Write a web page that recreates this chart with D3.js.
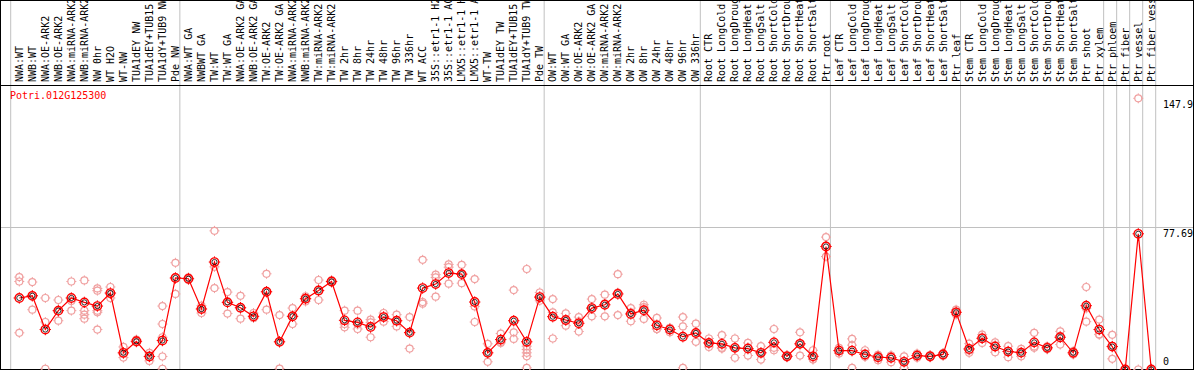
<!DOCTYPE html>
<html>
<head>
<meta charset="utf-8">
<script src="https://cdn.jsdelivr.net/npm/d3@7"></script>
<style>
  body { margin: 0; background: #fff; }
  svg { display: block; }
</style>
</head>
<body>
<script>
// sample names, left to right
const samples = [
  "NWA:WT", "NWB:WT", "NWA:OE-ARK2", "NWB:OE-ARK2", "NWA:miRNA-ARK2", "NWB:miRNA-ARK2",
  "NW 0hr", "WT H2O", "WT-NW", "TUA1dEY NW", "TUA1dEY+TUB15 NW", "TUA1dY+TUB9 NW", "Pde NW",
  "NWA:WT GA", "NWBWT GA", "TW:WT", "TW:WT GA", "NWA:OE-ARK2 GA", "NWB:OE-ARK2 GA",
  "TW:OE-ARK2", "TW:OE-ARK2 GA", "NWA:miRNA-ARK2", "NWB:miRNA-ARK2", "TW:miRNA-ARK2",
  "TW:miRNA-ARK2", "TW 2hr", "TW 8hr", "TW 24hr", "TW 48hr", "TW 96hr", "TW 336hr",
  "WT ACC", "35S::etr1-1 H2O", "35S::etr1-1 ACC", "LMX5::etr1-1 H2O", "LMX5::etr1-1 ACC",
  "WT-TW", "TUA1dEY TW", "TUA1dEY+TUB15 TW", "TUA1dY+TUB9 TW", "Pde TW",
  "OW:WT", "OW:WT GA", "OW:OE-ARK2", "OW:OE-ARK2 GA", "OW:miRNA-ARK2", "OW:miRNA-ARK2",
  "OW 2hr", "OW 8hr", "OW 24hr", "OW 48hr", "OW 96hr", "OW 336hr",
  "Root CTR", "Root LongCold", "Root LongDrought", "Root LongHeat", "Root LongSalt",
  "Root ShortCold", "Root ShortDrought", "Root ShortHeat", "Root ShortSalt", "Ptr root",
  "Leaf CTR", "Leaf LongCold", "Leaf LongDrought", "Leaf LongHeat", "Leaf LongSalt",
  "Leaf ShortCold", "Leaf ShortDrought", "Leaf ShortHeat", "Leaf ShortSalt", "Ptr leaf",
  "Stem CTR", "Stem LongCold", "Stem LongDrought", "Stem LongHeat", "Stem LongSalt",
  "Stem ShortCold", "Stem ShortDrought", "Stem ShortHeat", "Stem ShortSalt", "Ptr shoot",
  "Ptr xylem", "Ptr phloem", "Ptr fiber", "Ptr vessel", "Ptr fiber vessel"
];

// mean expression per sample
const means = [
  39.0, 40.2, 21.8, 32.1, 39.0, 36.6, 34.6, 41.7, 9.1, 15.4, 7.1, 15.8, 49.9,
  49.5, 33.0, 58.6, 36.6, 33.7, 29.0, 42.4, 15.1, 29.0, 38.6, 43.1, 48.0, 26.8, 25.7,
  23.2, 28.6, 26.6, 20.1, 44.4, 46.6, 52.6, 52.0, 36.8, 9.1, 16.3, 26.6, 15.1, 39.5,
  28.8, 27.0, 25.2, 33.5, 35.3, 41.2, 30.3, 32.3, 24.1, 21.8, 17.9, 19.9,
  14.5, 14.0, 11.8, 11.4, 9.1, 14.8, 7.2, 14.0, 7.2, 67.1,
  10.3, 10.3, 8.2, 6.7, 6.4, 4.2, 7.6, 7.2, 8.2, 31.2,
  11.2, 17.0, 12.5, 9.8, 9.2, 14.8, 11.8, 17.6, 9.1, 34.8, 21.8,
  12.5, 0, 74.0, 0
];

// individual replicates per sample
const replicates = [
  [50.4, 48.0, 20.0], [47.7, 32.6, 40.2], [39.0, 25.9, 0.4], [37.9, 26.6, 31.8],
  [48.0, 32.1, 37.3], [48.6, 32.1, 29.9, 27.7], [44.2, 43.0, 32.1, 31.2, 21.8],
  [45.0, 39.0, 41.1], [12.3, 6.5, 8.5], [16.3, 14.7, 15.2], [9.1, 7.1, 4.7],
  [34.6, 24.8, 17.6, 7.1, 0.4], [58.2, 41.2, 50.2],
  [50.2, 49.5, 48.8], [34.8, 30.8, 33.4], [75.6, 44.4, 56.0], [42.2, 30.5, 37.1],
  [40.2, 27.7, 33.2], [30.8, 28.1, 28.1], [52.2, 32.6, 42.4], [29.7, 0.5, 15.1],
  [33.5, 24.8, 28.7], [39.9, 37.1, 38.8], [48.8, 37.9, 42.6], [48.6, 47.4, 48.0],
  [32.1, 24.8, 23.0], [32.1, 24.5, 22.1], [27.2, 25.7, 17.6], [30.8, 26.1, 28.9],
  [29.9, 23.5, 26.4], [28.6, 11.4, 20.3], [59.8, 36.8, 35.9], [51.7, 50.2, 39.7],
  [57.3, 55.8, 46.8], [57.1, 47.1, 52.0], [49.3, 34.4, 25.9], [14.0, 4.2, 9.1],
  [19.6, 14.5, 15.0], [43.3, 20.3, 16.7], [54.8, 12.7, 10.9, 9.1, 7.2, 0.9],
  [42.0, 37.5, 39.0],
  [38.4, 16.9, 31.1], [30.6, 23.9, 26.5], [28.6, 20.7, 26.3], [38.4, 29.0, 33.1],
  [40.8, 29.0, 36.1], [52.0, 29.7, 41.9], [33.5, 26.3, 31.1], [35.3, 27.6, 34.0],
  [28.1, 22.1, 22.1], [22.7, 20.3, 22.4], [28.6, 23.5, 0.9], [25.0, 15.1, 19.6],
  [16.9, 12.3, 14.3], [18.7, 11.4, 11.9], [16.9, 6.4, 12.1], [14.5, 7.6, 12.1],
  [12.7, 5.4, 9.2], [22.1, 10.5, 11.8], [7.8, 6.6, 7.2], [20.3, 7.6, 14.1],
  [10.5, 5.4, 5.7], [72.2, 61.6, 67.5],
  [11.8, 8.7, 10.4], [16.7, 0.9, 13.3], [10.5, 7.2, 6.9], [8.0, 5.1, 7.0],
  [7.6, 4.0, 7.6], [7.2, 0.9, 4.5], [8.7, 6.4, 7.7], [7.8, 6.6, 7.2],
  [9.0, 7.4, 8.2], [32.6, 29.9, 31.1],
  [14.1, 9.1, 10.4], [19.0, 14.5, 17.5], [14.8, 9.4, 13.3], [12.7, 6.7, 10.0],
  [11.2, 7.2, 9.2], [20.0, 11.8, 12.6], [12.6, 11.0, 11.8], [20.8, 13.6, 18.4],
  [10.0, 8.2, 9.1], [45.0, 26.1, 33.3], [27.2, 19.0, 19.2],
  [18.9, 5.8, 12.8], [0, 0], [147.9, 0], [0, 0]
];

// sample index where each vertical separator sits
const groupBreaks = [0, 13, 41, 53, 63, 73, 84, 85, 86, 87, 88];
const yTicks = ["0", "77.69", "147.9"];
const geneName = "Potri.012G125300";

let width = 1194, height = 370,
    labelBase = 82, headerLine = 85.5;

let x = d3.scaleBand()
    .domain(d3.range(samples.length))
    .range([10.7, 1155.7]);

let y = d3.scaleLinear()
    .domain([0, 147.9])
    .range([369.5, 98.3]);

const px = i => x(i) + 8.6;

let svg = d3.select("body").append("svg")
    .attr("width", width)
    .attr("height", height)
    .style("font-family", "'DejaVu Sans Mono', monospace")
    .style("font-size", "10px");

// group separators
svg.selectAll("line.sep")
    .data(groupBreaks)
    .enter()
    .append("line")
    .attr("class", "sep")
    .attr("x1", d => (d < samples.length ? x(d) : x(d - 1) + x.bandwidth()))
    .attr("x2", d => (d < samples.length ? x(d) : x(d - 1) + x.bandwidth()))
    .attr("y1", 0)
    .attr("y2", height)
    .attr("stroke", "#c0c0c0");

// horizontal grid at 77.69
svg.append("line")
    .attr("x1", 0).attr("x2", width)
    .attr("y1", Math.round(y(77.69)) + 0.5)
    .attr("y2", Math.round(y(77.69)) + 0.5)
    .attr("stroke", "#c0c0c0");

// sample labels, rotated
svg.selectAll("text.sample")
    .data(samples)
    .enter()
    .append("text")
    .attr("class", "sample")
    .attr("transform", (d, i) => "translate(" + (px(i) + 3.5) + "," + labelBase + ") rotate(-90)")
    .attr("fill", "#000")
    .text(d => d);

// frame and header line
svg.append("rect")
    .attr("x", 0.5).attr("y", 0.5)
    .attr("width", width - 1).attr("height", height - 1)
    .attr("fill", "none")
    .attr("stroke", "#000");

svg.append("line")
    .attr("x1", 0).attr("x2", width)
    .attr("y1", headerLine).attr("y2", headerLine)
    .attr("stroke", "#000");

// right axis labels
svg.selectAll("text.ytick")
    .data(yTicks)
    .enter()
    .append("text")
    .attr("class", "ytick")
    .attr("x", 1163)
    .attr("y", d => Math.min(y(+d) + 10, 365))
    .attr("fill", "#000")
    .text(d => d);

svg.append("text")
    .attr("x", 10)
    .attr("y", 99)
    .attr("fill", "red")
    .text(geneName);

// circle with small ticks
function marker(g, cx, cy, r, color, sw) {
    g.append("circle")
        .attr("cx", cx).attr("cy", cy).attr("r", r)
        .attr("fill", "none").attr("stroke", color).attr("stroke-width", sw);
    [[0, -1], [0, 1], [-1, 0], [1, 0]].forEach(function (v) {
        g.append("line")
            .attr("x1", cx + v[0] * r).attr("y1", cy + v[1] * r)
            .attr("x2", cx + v[0] * (r + 1.5)).attr("y2", cy + v[1] * (r + 1.5))
            .attr("stroke", color).attr("stroke-width", 1);
    });
}

let plot = svg.append("g");

let reps = plot.append("g");
replicates.forEach(function (vals, i) {
    vals.forEach(function (v) {
        marker(reps, px(i), y(v), 3.5, "#f0a0a0", 1.2);
    });
});

plot.append("path")
    .datum(means)
    .attr("fill", "none")
    .attr("stroke", "red")
    .attr("stroke-width", 1.2)
    .attr("d", d3.line().x((d, i) => px(i)).y(d => y(d)));

let mg = plot.append("g");
means.forEach(function (v, i) {
    marker(mg, px(i), y(v), 4.2, "red", 1.4);
    mg.append("circle")
        .attr("cx", px(i)).attr("cy", y(v)).attr("r", 2.6)
        .attr("fill", "none").attr("stroke", "#000").attr("stroke-width", 0.8);
});
</script>
</body>
</html>
